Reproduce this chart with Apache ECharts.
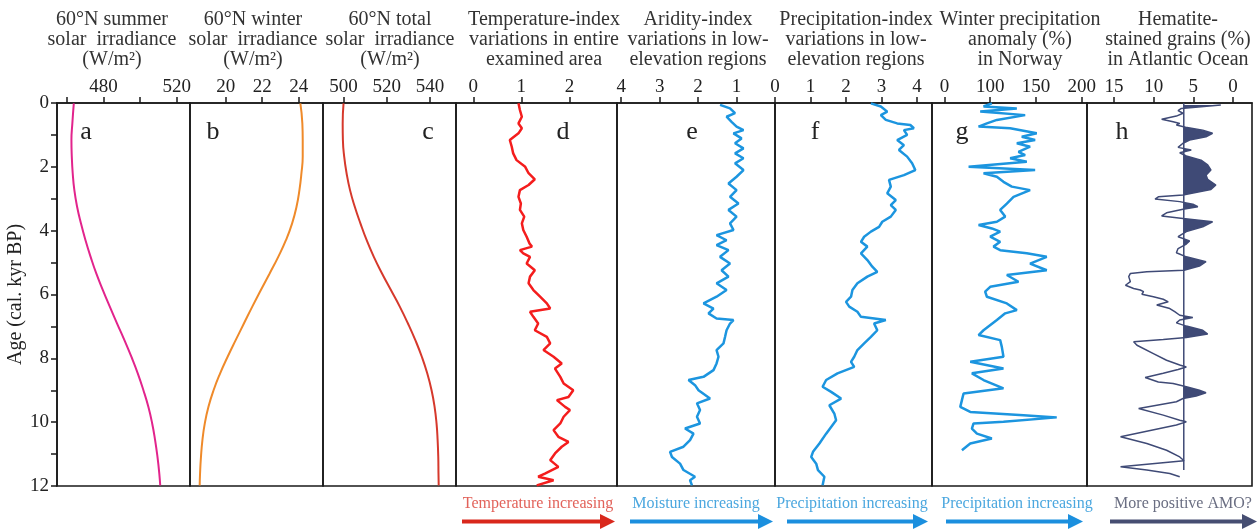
<!DOCTYPE html>
<html>
<head>
<meta charset="utf-8">
<script src="https://cdn.jsdelivr.net/npm/echarts@6/dist/echarts.min.js"></script>
<style>html,body{margin:0;padding:0;background:#fff}#chart{width:1258px;height:531px}</style>
</head>
<body>
<div id="chart"></div>
<script>
// ---------------- DATA ----------------
// panel a: 60N summer solar irradiance (W/m2)  [age kyr BP, value]
const aCurve = [[0.01,463.7],[0.64,462.9],[1.16,462.4],[1.68,462.6],[2.2,463.1],[2.73,464.0],[3.25,465.5],[3.77,467.6],[4.3,470.1],[4.82,472.9],[5.34,476.0],[5.86,479.6],[6.38,483.4],[6.91,487.4],[7.43,491.4],[7.95,495.2],[8.47,498.7],[9.0,501.8],[9.52,504.5],[10.04,506.6],[10.56,508.2],[11.09,509.5],[11.61,510.5],[11.98,511.0]];
// panel b: 60N winter solar irradiance
const bCurve = [[0.01,24.09],[0.64,24.2],[1.16,24.22],[1.68,24.22],[2.2,24.15],[2.73,24.04],[3.25,23.88],[3.77,23.64],[4.3,23.3],[4.82,22.88],[5.34,22.41],[5.86,21.93],[6.38,21.46],[6.91,21.0],[7.43,20.55],[7.95,20.11],[8.47,19.7],[9.0,19.34],[9.52,19.06],[10.04,18.86],[10.56,18.73],[11.09,18.65],[11.61,18.6],[11.98,18.58]];
// panel c: 60N total solar irradiance
const cCurve = [[0.01,500.0],[0.64,499.6],[1.16,499.7],[1.68,500.3],[2.2,501.4],[2.73,503.0],[3.25,505.2],[3.77,507.8],[4.3,510.7],[4.82,514.0],[5.34,517.8],[5.86,521.9],[6.38,526.0],[6.91,529.8],[7.43,533.2],[7.95,536.2],[8.47,538.7],[9.0,540.7],[9.52,542.1],[10.04,543.0],[10.56,543.5],[11.09,543.8],[11.61,543.9],[11.98,544.0]];
// panel d: temperature index
const dCurve = [[0.01,0.94],[0.22,0.97],[0.43,1.01],[0.64,0.94],[0.79,1.01],[0.95,0.94],[1.16,0.76],[1.37,0.8],[1.58,0.83],[1.79,0.9],[2.0,1.08],[2.2,1.15],[2.39,1.28],[2.57,1.15],[2.73,0.97],[2.94,0.94],[3.15,0.99],[3.35,0.97],[3.56,1.06],[3.77,1.01],[3.98,1.04],[4.19,1.11],[4.4,1.17],[4.5,1.22],[4.61,0.97],[4.71,1.04],[4.82,1.18],[5.03,1.11],[5.24,1.28],[5.44,1.18],[5.65,1.15],[5.86,1.25],[6.07,1.39],[6.28,1.53],[6.44,1.6],[6.54,1.18],[6.7,1.25],[6.91,1.35],[7.12,1.28],[7.33,1.53],[7.53,1.6],[7.74,1.46],[7.95,1.67],[8.16,1.84],[8.32,1.7],[8.58,1.81],[8.79,1.88],[9.0,2.08],[9.21,1.98],[9.31,1.74],[9.52,1.91],[9.62,2.01],[9.83,1.88],[10.04,1.81],[10.25,1.67],[10.46,1.77],[10.62,1.98],[10.77,1.84],[10.98,1.7],[11.19,1.6],[11.4,1.77],[11.61,1.49],[11.71,1.35],[11.82,1.67],[11.98,1.32]];
// panel e: aridity index
const eCurve = [[0.06,1.43],[0.17,1.17],[0.32,1.04],[0.43,1.26],[0.59,1.13],[0.74,1.0],[0.85,0.82],[0.95,1.08],[1.11,0.87],[1.26,1.04],[1.42,0.82],[1.58,1.04],[1.73,0.82],[1.89,1.04],[2.1,0.82],[2.31,1.0],[2.52,1.21],[2.73,1.0],[2.94,1.17],[3.15,0.95],[3.35,1.21],[3.56,1.0],[3.77,1.17],[3.98,1.08],[4.14,1.52],[4.3,1.26],[4.45,1.52],[4.61,1.21],[4.82,1.43],[5.03,1.17],[5.24,1.39],[5.44,1.21],[5.65,1.52],[5.86,1.26],[6.07,1.52],[6.28,1.86],[6.44,1.6],[6.59,1.73],[6.75,1.52],[6.8,1.08],[6.91,1.17],[7.12,1.26],[7.33,1.3],[7.53,1.34],[7.74,1.52],[7.95,1.47],[8.16,1.52],[8.37,1.6],[8.58,1.86],[8.68,2.25],[8.84,2.08],[9.0,1.99],[9.26,1.69],[9.41,2.03],[9.62,1.95],[9.83,2.03],[10.04,1.95],[10.2,2.34],[10.36,2.12],[10.56,2.21],[10.77,2.38],[10.93,2.73],[11.09,2.68],[11.3,2.47],[11.5,2.38],[11.71,2.08],[11.82,2.21],[11.98,2.16]];
// panel f: precipitation index
const fCurve = [[0.01,2.7],[0.11,2.98],[0.27,3.16],[0.38,2.98],[0.53,3.12],[0.64,3.44],[0.69,3.81],[0.79,3.91],[0.85,3.63],[1.0,3.72],[1.16,3.44],[1.32,3.63],[1.47,3.49],[1.68,3.72],[1.89,3.86],[2.1,3.95],[2.26,3.63],[2.41,3.21],[2.62,3.26],[2.83,3.16],[3.04,3.4],[3.2,3.26],[3.35,3.4],[3.56,3.26],[3.72,3.02],[3.88,2.93],[4.03,2.7],[4.19,2.51],[4.35,2.42],[4.5,2.6],[4.71,2.42],[4.92,2.6],[5.13,2.74],[5.29,2.88],[5.44,2.6],[5.65,2.32],[5.86,2.18],[6.07,2.14],[6.23,2.0],[6.38,2.09],[6.54,2.32],[6.7,2.42],[6.8,3.12],[6.91,2.79],[7.12,2.88],[7.33,2.7],[7.53,2.51],[7.74,2.32],[7.95,2.23],[8.11,2.14],[8.27,2.23],[8.47,1.76],[8.68,1.44],[8.89,1.34],[9.05,1.58],[9.26,1.86],[9.47,1.53],[9.73,1.67],[9.94,1.72],[10.15,1.58],[10.36,1.44],[10.67,1.25],[10.93,1.07],[11.09,1.02],[11.3,1.16],[11.5,1.21],[11.71,1.39],[11.98,1.34]];
// panel g: winter precipitation anomaly in Norway (%)
const gCurve = [[0.01,101.8],[0.11,92.7],[0.17,129.1],[0.27,89.1],[0.38,138.2],[0.53,107.3],[0.64,96.4],[0.74,87.3],[0.79,121.8],[0.95,150.9],[1.06,134.5],[1.16,149.1],[1.26,129.1],[1.37,143.6],[1.53,130.9],[1.63,138.2],[1.73,121.8],[1.84,140],[2.0,76.4],[2.1,149.1],[2.2,92.7],[2.31,107.3],[2.47,114.5],[2.62,123.6],[2.73,143.6],[2.94,125.5],[3.15,118.2],[3.35,110.9],[3.56,116.4],[3.72,107.3],[3.82,87.3],[3.93,101.8],[4.03,110.9],[4.19,100],[4.35,110.9],[4.5,103.6],[4.61,110.9],[4.71,140],[4.82,161.8],[5.03,143.6],[5.24,161.8],[5.39,118.2],[5.6,130.9],[5.76,100],[5.91,94.5],[6.07,96.4],[6.28,118.2],[6.49,129.1],[6.59,116.4],[6.8,107.3],[7.12,92.7],[7.27,87.3],[7.43,110.9],[7.64,112.7],[7.95,114.5],[8.11,78.2],[8.32,114.5],[8.47,80],[8.68,92.7],[8.94,114.5],[9.1,70.9],[9.31,69.1],[9.52,67.3],[9.68,78.2],[9.78,136.4],[9.85,172.7],[9.99,114.5],[10.04,81.8],[10.2,80],[10.36,85.5],[10.51,101.8],[10.67,78.2],[10.88,69.1]];
// panel h: hematite-stained grains (%)
const hCurve = [[0.06,1.53],[0.17,6.51],[0.24,6.92],[0.32,6.3],[0.41,7.13],[0.51,8.99],[0.59,7.54],[0.64,6.71],[0.69,7.13],[0.76,5.97],[0.85,3.81],[0.95,2.57],[1.06,3.4],[1.16,5.47],[1.26,6.3],[1.39,6.92],[1.47,5.26],[1.56,6.71],[1.66,5.88],[1.79,4.02],[1.94,3.19],[2.1,2.78],[2.26,3.4],[2.39,3.19],[2.57,2.16],[2.71,2.78],[2.78,4.23],[2.88,6.3],[2.94,9.41],[3.01,9.82],[3.09,6.71],[3.17,5.06],[3.25,4.43],[3.33,6.3],[3.44,8.37],[3.54,8.99],[3.62,6.3],[3.72,2.57],[3.88,3.81],[4.03,5.88],[4.19,6.92],[4.32,5.47],[4.42,5.88],[4.56,6.92],[4.69,7.13],[4.82,5.88],[4.97,3.4],[5.11,4.23],[5.24,6.17],[5.29,10.86],[5.34,12.93],[5.44,13.14],[5.6,12.93],[5.71,13.55],[5.81,12.52],[5.86,11.69],[5.91,11.27],[5.99,11.48],[6.07,10.03],[6.15,8.79],[6.23,8.16],[6.33,9.61],[6.44,7.96],[6.54,7.34],[6.65,6.71],[6.72,5.06],[6.8,6.71],[6.89,7.13],[6.99,5.88],[7.12,3.81],[7.24,3.19],[7.35,5.88],[7.41,8.79],[7.48,12.52],[7.59,12.1],[7.85,10.03],[8.06,8.37],[8.21,6.71],[8.27,5.88],[8.35,6.92],[8.47,8.79],[8.6,11.07],[8.74,9.41],[8.79,7.54],[8.89,5.88],[9.0,4.23],[9.08,3.4],[9.18,4.64],[9.26,6.3],[9.36,7.13],[9.57,11.89],[9.78,8.79],[9.94,6.71],[9.99,5.88],[10.09,7.13],[10.46,14.17],[10.67,10.86],[10.88,8.37],[11.09,6.71],[11.21,6.17],[11.4,14.17],[11.5,10.86],[11.61,7.96],[11.71,6.71]];
const hBase = 6.2;              // reference line value of panel h
const hBaseAges = [0.01, 11.5]; // extent of the reference line

// tick values / labels
const ageTicks = [0,1,2,3,4,5,6,7,8,9,10,11,12];
const ageLabels = [0,2,4,6,8,10,12];
const aTicks = [460,480,500,520], aLabels = [480,520];
const bTicks = [20,22,24],        bLabels = [20,22,24];
const cTicks = [500,520,540],     cLabels = [500,520,540];
const dTicks = [0,1,2],           dLabels = [0,1,2];
const eTicks = [0,1,2,3,4],       eLabels = [0,1,2,3,4];
const fTicks = [1,2,3,4],         fLabels = [1,2,3,4];
const gTicks = [50,100,150,200],  gLabels = [50,100,150,200];
const gLabelText = ['0','100','150','200'];
const hTicks = [0,5,10,15],       hLabels = [0,5,10,15];

const titles = [
  '60°N summer\nsolar  irradiance\n(W/m²)',
  '60°N winter\nsolar  irradiance\n(W/m²)',
  '60°N total\nsolar  irradiance\n(W/m²)',
  'Temperature-index\nvariations in entire\nexamined area',
  'Aridity-index\nvariations in low-\nelevation regions',
  'Precipitation-index\nvariations in low-\nelevation regions',
  'Winter precipitation\nanomaly (%)\nin Norway',
  'Hematite-\nstained grains (%)\nin Atlantic Ocean'
];
const letters = ['a','b','c','d','e','f','g','h'];
const bottomTexts = ['Temperature increasing','Moisture increasing','Precipitation increasing','Precipitation increasing','More positive AMO?'];

// ---------------- LAYOUT / STYLE ----------------
const SERIF = '"Liberation Serif","Times New Roman",serif';
const TOP = 103, HEIGHT = 383;
const panels = [
  {l:57,  r:190,  min:454.5, max:527.3, inv:false, ticks:aTicks, labels:aLabels, curve:aCurve, color:'#e2248c', w:2,   smooth:0.5,   title:112,  letter:86},
  {l:190, r:323,  min:18.05, max:25.33, inv:false, ticks:bTicks, labels:bLabels, curve:bCurve, color:'#ef8a2a', w:2,   smooth:0.5,   title:253,  letter:213},
  {l:323, r:456,  min:490.5, max:552,   inv:false, ticks:cTicks, labels:cLabels, curve:cCurve, color:'#d6392c', w:2,   smooth:0.5,   title:390,  letter:428},
  {l:456, r:617,  min:-0.36, max:2.99,  inv:false, ticks:dTicks, labels:dLabels, curve:dCurve, color:'#f41d1d', w:2.5, smooth:false, title:544,  letter:563},
  {l:617, r:775,  min:0,     max:4.11,  inv:true,  ticks:eTicks, labels:eLabels, curve:eCurve, color:'#1c95df', w:2.5, smooth:false, title:698,  letter:692},
  {l:775, r:932,  min:0,     max:4.42,  inv:false, ticks:fTicks, labels:fLabels, curve:fCurve, color:'#1c95df', w:2.5, smooth:false, title:856,  letter:815},
  {l:932, r:1087, min:36.4,  max:205.8, inv:false, ticks:gTicks, labels:gLabels, curve:gCurve, color:'#1c95df', w:2.5, smooth:false, title:1020, letter:962},
  {l:1087,r:1252, min:-2.4,  max:18.4,  inv:true,  ticks:hTicks, labels:hLabels, curve:hCurve, color:'#3f4a76', w:1.5, smooth:false, title:1178, letter:1122}
];
const AXIS_COLOR = '#1a1a1a';

const grid = [], xAxis = [], yAxis = [], series = [];
panels.forEach((p, i) => {
  grid.push({left:p.l, width:p.r - p.l, top:TOP, height:HEIGHT, show:true,
    borderColor:AXIS_COLOR, borderWidth:1.6, backgroundColor:'transparent', containLabel:false, outerBoundsMode:'none'});
  xAxis.push({gridIndex:i, type:'value', position:'top', min:p.min, max:p.max, inverse:p.inv,
    axisLine:{show:true, onZero:false, lineStyle:{color:AXIS_COLOR, width:1.6}},
    axisTick:{show:true, inside:false, length:6, customValues:p.ticks, lineStyle:{color:AXIS_COLOR, width:1.5}},
    axisLabel:{show:true, customValues:p.labels, margin:6, fontSize:19, fontFamily:SERIF, color:'#222',
      showMinLabel:true, showMaxLabel:true, hideOverlap:false,
      formatter: i === 6 ? (v => gLabelText[gTicks.indexOf(v)]) : (v => String(v))},
    splitLine:{show:false}});
  if (i === 0) {
    yAxis.push({gridIndex:i, type:'value', min:0, max:12, inverse:true,
      name:'Age (cal. kyr BP)', nameLocation:'middle', nameGap:27, nameRotate:90,
      nameTextStyle:{fontSize:20, fontFamily:SERIF, color:'#222'},
      axisLine:{show:true, onZero:false, lineStyle:{color:AXIS_COLOR, width:1.6}},
      axisTick:{show:true, inside:false, length:6, customValues:ageTicks, lineStyle:{color:AXIS_COLOR, width:1.5}},
      axisLabel:{customValues:ageLabels, margin:8, fontSize:19, fontFamily:SERIF, color:'#222',
        showMinLabel:true, showMaxLabel:true, hideOverlap:false},
      splitLine:{show:false}});
  } else {
    yAxis.push({gridIndex:i, type:'value', min:0, max:12, inverse:true, show:false, splitLine:{show:false}});
  }
  series.push({type:'line', xAxisIndex:i, yAxisIndex:i, data:p.curve.map(d => [d[1], d[0]]),
    showSymbol:false, smooth:p.smooth, lineStyle:{color:p.color, width:p.w}, z:3});
});

// panel h: reference line and filled part (values below the reference line, plotted to its right)
series.push({type:'line', xAxisIndex:7, yAxisIndex:7, data:hBaseAges.map(a => [hBase, a]),
  showSymbol:false, lineStyle:{color:'#3f4a76', width:1.5}, z:3});
series.push({type:'custom', coordinateSystem:'cartesian2d', xAxisIndex:7, yAxisIndex:7, data:[[hBase, 0]], z:2,
  renderItem: function (params, api) {
    const pts = [api.coord([hBase, hCurve[0][0]])];
    for (let k = 0; k < hCurve.length; k++) {
      const age = hCurve[k][0], v = hCurve[k][1];
      if (k > 0) {
        const pa = hCurve[k-1][0], pv = hCurve[k-1][1];
        if ((pv - hBase) * (v - hBase) < 0) {
          const t = (hBase - pv) / (v - pv);
          pts.push(api.coord([hBase, pa + t * (age - pa)]));
        }
      }
      pts.push(api.coord([Math.min(v, hBase), age]));
    }
    pts.push(api.coord([hBase, hCurve[hCurve.length-1][0]]));
    return {type:'polygon', shape:{points:pts}, style:{fill:'#3f4a76'}};
  }});

// ---------------- GRAPHICS: titles, letters, bottom arrows ----------------
const graphic = [];
panels.forEach((p, i) => {
  graphic.push({type:'text', x:p.title, y:10, silent:true,
    style:{text:titles[i], font:'20px ' + SERIF, fill:'#333', align:'center', textAlign:'center',
      verticalAlign:'top', textVerticalAlign:'top', lineHeight:20}});
  graphic.push({type:'text', x:p.letter, y:132, silent:true,
    style:{text:letters[i], font:'26px ' + SERIF, fill:'#222', align:'center', textAlign:'center',
      verticalAlign:'middle', textVerticalAlign:'middle'}});
});
const arrows = [
  {x1:462, x2:615, tx:538,  color:'#d9281c', tcolor:'#e2625a'},
  {x1:630, x2:773, tx:696,  color:'#1b8fde', tcolor:'#4ba7df'},
  {x1:787, x2:928, tx:852,  color:'#1b8fde', tcolor:'#4ba7df'},
  {x1:946, x2:1083,tx:1017, color:'#1b8fde', tcolor:'#4ba7df'},
  {x1:1110,x2:1257,tx:1183, color:'#464e72', tcolor:'#6a6e82'}
];
arrows.forEach((a, i) => {
  graphic.push({type:'text', x:a.tx, y:504, silent:true,
    style:{text:bottomTexts[i], font:'16px ' + SERIF, fill:a.tcolor, align:'center', textAlign:'center',
      verticalAlign:'middle', textVerticalAlign:'middle'}});
  graphic.push({type:'line', silent:true, shape:{x1:a.x1, y1:521.5, x2:a.x2 - 12, y2:521.5},
    style:{stroke:a.color, lineWidth:4}});
  graphic.push({type:'polygon', silent:true, shape:{points:[[a.x2 - 15, 514],[a.x2, 521.5],[a.x2 - 15, 529]]},
    style:{fill:a.color}});
});

const chart = echarts.init(document.getElementById('chart'), null, {renderer:'canvas'});
chart.setOption({animation:false, backgroundColor:'#fff', grid, xAxis, yAxis, series, graphic});
</script>
</body>
</html>
